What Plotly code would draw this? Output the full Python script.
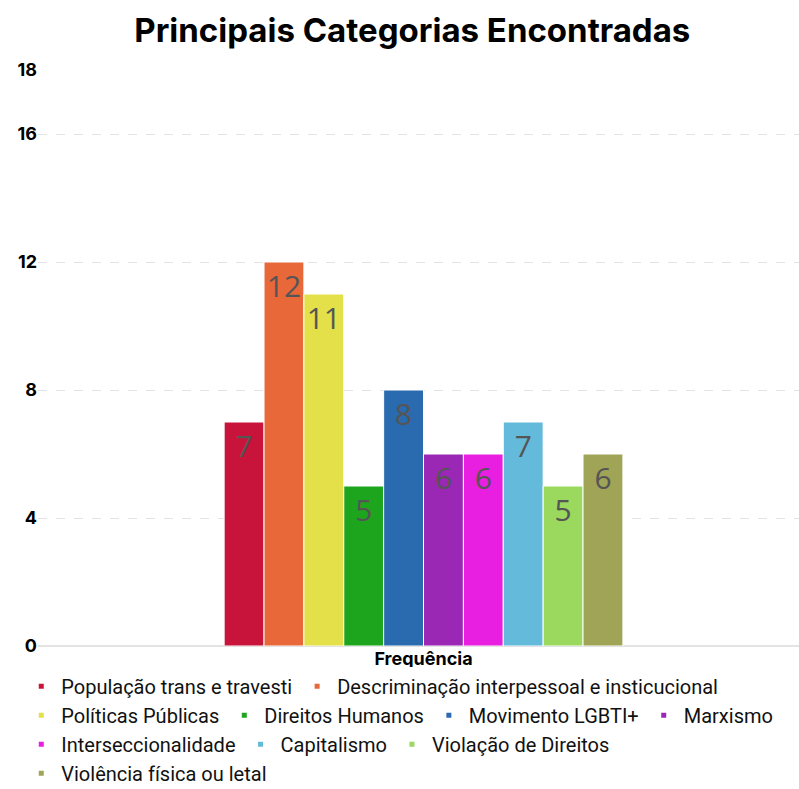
import plotly.graph_objects as go

categories = ["População trans e travesti", "Descriminação interpessoal e insticucional",
              "Políticas Públicas", "Direitos Humanos", "Movimento LGBTI+", "Marxismo",
              "Interseccionalidade", "Capitalismo", "Violação de Direitos",
              "Violência física ou letal"]
values = [7, 12, 11, 5, 8, 6, 6, 7, 5, 6]
colors = ["#C8143A", "#E8683A", "#E4E04A", "#1EA51E", "#2A6AAE", "#9B27B5",
          "#E81EE0", "#64BADB", "#9AD85E", "#A0A456"]
x_label = "Frequência"
y_ticks = [0, 4, 8, 12, 16, 18]

fig = go.Figure()
for name, v, c in zip(categories, values, colors):
    fig.add_trace(go.Bar(
        x=[x_label], y=[v], name=name, marker=dict(color=c, line=dict(color="white", width=1)),
        text=[str(v)], textposition="inside", insidetextanchor="end",
        textfont=dict(family="Open Sans", size=30, color="#555555"),
        constraintext="none", showlegend=False, legendgroup=name, hoverinfo="skip"))
for name, c in zip(categories, colors):
    fig.add_trace(go.Scatter(
        x=[None], y=[None], mode="markers", name=name, legendgroup=name,
        marker=dict(symbol="square", size=5, color=c)))

fig.update_layout(
    width=799, height=789,
    paper_bgcolor="white", plot_bgcolor="white",
    margin=dict(l=38, r=0, t=70, b=143, autoexpand=False),
    title=dict(text="<b>Principais Categorias Encontradas</b>", x=0.516, xanchor="center",
               y=0.962, yanchor="middle",
               font=dict(family="Inter", size=33, color="black", weight=800)),
    barmode="group", bargap=0.476,
    showlegend=True,
    legend=dict(orientation="h", x=-0.022, xanchor="left", y=-0.036, yanchor="top",
                font=dict(family="Roboto", size=20, color="#111111"),
                itemwidth=30, tracegroupgap=0, traceorder="grouped"),
    xaxis=dict(showgrid=False, tickfont=dict(family="Inter", size=18, color="black", weight="bold"),
               ticks="", showline=False, range=[-0.5066, 0.4934]),
    yaxis=dict(range=[0, 18], tickvals=y_ticks, ticktext=[str(t) for t in y_ticks],
               tickfont=dict(family="Inter", size=18, color="black", weight="bold"),
               showgrid=True, gridcolor="#e3e3e3", griddash="dash", gridwidth=1,
               zeroline=True, zerolinecolor="#e3e3e3", zerolinewidth=1.5, ticks=""),
)
fig.write_html("out.html")
